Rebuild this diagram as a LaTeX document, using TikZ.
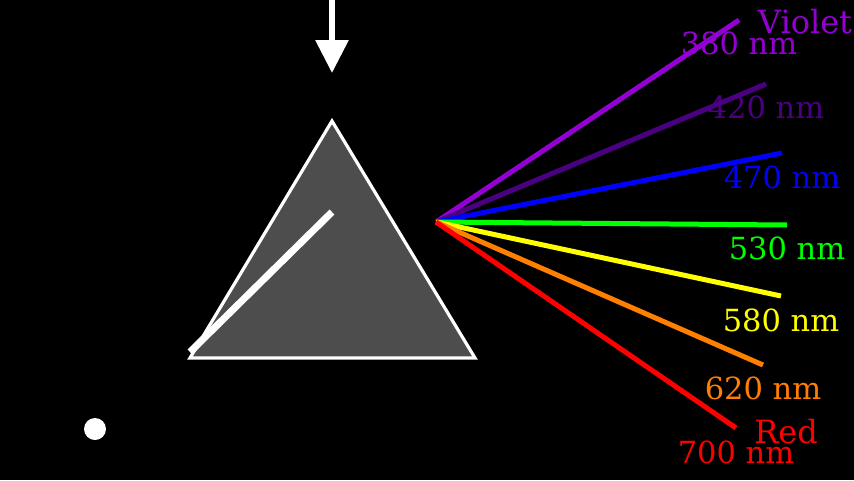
\documentclass[tikz,border=0pt]{standalone}
\usepackage{fontspec}
\setmainfont{DejaVu Serif}
\usetikzlibrary{positioning}
\usetikzlibrary{arrows.meta}
\definecolor{cviolet}{RGB}{148,0,211}
\definecolor{cindigo}{RGB}{75,0,130}
\definecolor{cblue}{RGB}{0,0,255}
\definecolor{cgreen}{RGB}{0,255,0}
\definecolor{cyellow}{RGB}{255,255,0}
\definecolor{corange}{RGB}{255,127,0}
\definecolor{cred}{RGB}{255,0,0}
\definecolor{prismgray}{RGB}{77,77,77}

\begin{document}
\begin{tikzpicture}
  [x=1pt,y=-1pt,
  ray/.style={line width=5pt},
  nmlabel/.style={anchor=base,inner sep=0pt,font=\fontsize{30.5}{31}\selectfont},
  namelabel/.style={anchor=base,inner sep=0pt,font=\fontsize{32}{33}\selectfont}]
  \useasboundingbox (0,0) rectangle (854,480);
  \fill[black] (0,0) rectangle (854,480);

  % incoming light
  \coordinate (top) at (332,0);
  \coordinate (tip) at (332,73);
  \draw [white,line width=6pt,-{Triangle[length=33pt,width=32pt]}] (top) -- (tip);

  % prism
  \coordinate (apex) at (332,121);
  \coordinate (left) at (190,358);
  \coordinate (right) at (475,358);
  \draw [white,fill=prismgray,line width=3.2pt] (apex) -- (left) -- (right) -- cycle;

  \coordinate (beamin) at (332,212);
  \coordinate (beamout) at (190,352);
  \draw [white,line width=7pt] (beamin) -- (beamout);

  \node[circle,fill=white,inner sep=0pt,minimum size=22pt] (dot) at (95,429) {};

  % spectrum
  \coordinate (src) at (436,222);
  \coordinate (e380) at (739,20);
  \coordinate (e420) at (766,84);
  \coordinate (e470) at (782,153);
  \coordinate (e530) at (787,225);
  \coordinate (e580) at (781,296);
  \coordinate (e620) at (763,365);
  \coordinate (e700) at (736,428);

  \draw [ray,cviolet] (src) -- (e380);
  \draw [ray,cindigo] (src) -- (e420);
  \draw [ray,cblue] (src) -- (e470);
  \draw [ray,cgreen] (src) -- (e530);
  \draw [ray,cyellow] (src) -- (e580);
  \draw [ray,corange] (src) -- (e620);
  \draw [ray,cred] (src) -- (e700);

  \node[nmlabel,text=cviolet] (l380) at ([yshift=-34pt]e380) {380 nm};
  \node[nmlabel,text=cindigo] (l420) at ([yshift=-34pt]e420) {420 nm};
  \node[nmlabel,text=cblue] (l470) at ([yshift=-35pt]e470) {470 nm};
  \node[nmlabel,text=cgreen] (l530) at ([yshift=-34pt]e530) {530 nm};
  \node[nmlabel,text=cyellow] (l580) at ([yshift=-35pt]e580) {580 nm};
  \node[nmlabel,text=corange] (l620) at ([yshift=-34pt]e620) {620 nm};
  \node[nmlabel,text=cred] (l700) at ([yshift=-35pt]e700) {700 nm};

  \node[namelabel,text=cviolet] (violet) at (805,33) {Violet};
  \node[namelabel,text=cred] (red) at (786,443) {Red};
\end{tikzpicture}
\end{document}
